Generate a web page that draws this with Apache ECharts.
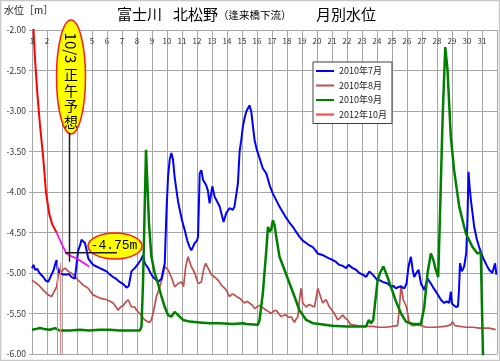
<!DOCTYPE html>
<html><head><meta charset="utf-8">
<script src="https://cdn.jsdelivr.net/npm/echarts@6/dist/echarts.min.js"></script>
<style>html,body{margin:0;padding:0;background:#fff}#c{width:500px;height:361px}</style>
</head><body><div id="c"></div>
<script>
// ---- data ----
const dayLabels = ['1','2','3','4','5','6','7','8','9','10','11','12','13','14','15','16','17','18','19','20','21','22','23','24','25','26','27','28','29','30','31'];
const seriesNames = ['2010年7月','2010年8月','2010年9月','2012年10月'];
const july2010 = [[1.0,-4.94],[1.1,-4.9],[1.2,-4.96],[1.35,-4.95],[1.5,-5.0],[1.75,-5.05],[1.9,-5.09],[2.08,-5.11],[2.2,-5.06],[2.31,-5.07],[2.45,-4.96],[2.53,-4.9],[2.64,-4.84],[2.7,-4.95],[2.75,-4.96],[2.85,-5.0],[2.98,-4.98],[3.1,-5.02],[3.31,-5.02],[3.45,-5.01],[3.64,-5.05],[3.75,-5.03],[3.86,-5.07],[3.98,-5.06],[4.08,-4.72],[4.2,-4.66],[4.3,-4.59],[4.41,-4.57],[4.53,-4.63],[4.64,-4.72],[4.75,-4.82],[4.9,-4.86],[5.08,-4.9],[5.3,-4.92],[5.52,-4.94],[5.75,-4.96],[5.97,-4.98],[6.2,-5.02],[6.41,-5.05],[6.6,-5.07],[6.85,-5.11],[7.1,-5.14],[7.3,-5.18],[7.45,-5.16],[7.63,-4.98],[7.74,-4.96],[7.85,-4.94],[7.97,-4.92],[8.1,-4.88],[8.25,-4.84],[8.4,-4.78],[8.52,-4.88],[8.74,-4.94],[8.9,-5.0],[9.07,-5.05],[9.25,-5.08],[9.4,-5.11],[9.63,-5.07],[9.85,-4.88],[9.96,-4.26],[10.07,-3.81],[10.18,-3.6],[10.29,-3.52],[10.4,-3.6],[10.5,-3.8],[10.63,-3.98],[10.74,-4.12],[10.85,-4.22],[11.0,-4.35],[11.18,-4.47],[11.35,-4.6],[11.51,-4.68],[11.62,-4.72],[11.75,-4.67],[11.85,-4.63],[12.0,-4.6],[12.07,-4.55],[12.18,-3.77],[12.29,-3.73],[12.4,-3.85],[12.5,-3.87],[12.62,-3.92],[12.72,-3.98],[12.84,-4.14],[13.02,-3.93],[13.18,-4.06],[13.35,-4.12],[13.51,-4.18],[13.65,-4.28],[13.77,-4.37],[13.95,-4.26],[14.17,-4.2],[14.39,-4.22],[14.5,-4.18],[14.62,-4.16],[14.73,-3.89],[14.84,-3.5],[14.95,-3.36],[15.06,-3.19],[15.17,-3.09],[15.28,-3.01],[15.39,-2.97],[15.5,-2.93],[15.62,-3.01],[15.73,-3.19],[15.84,-3.36],[15.99,-3.48],[16.17,-3.58],[16.39,-3.71],[16.62,-3.77],[16.85,-3.92],[17.06,-4.02],[17.28,-4.1],[17.5,-4.18],[17.72,-4.25],[17.95,-4.32],[18.17,-4.38],[18.39,-4.43],[18.6,-4.49],[18.83,-4.55],[19.05,-4.6],[19.28,-4.63],[19.5,-4.66],[19.72,-4.68],[19.9,-4.72],[20.05,-4.76],[20.16,-4.74],[20.4,-4.78],[20.6,-4.8],[20.8,-4.82],[21.05,-4.84],[21.25,-4.86],[21.49,-4.9],[21.7,-4.91],[21.94,-4.94],[22.1,-4.9],[22.38,-4.94],[22.6,-4.96],[22.82,-5.0],[23.05,-5.02],[23.27,-5.05],[23.49,-4.98],[23.71,-5.02],[23.9,-5.06],[24.04,-5.09],[24.2,-5.09],[24.38,-5.11],[24.55,-5.12],[24.71,-5.13],[24.93,-5.17],[25.1,-5.16],[25.26,-5.19],[25.45,-5.17],[25.6,-5.17],[25.82,-5.19],[25.97,-5.13],[26.08,-4.95],[26.15,-4.88],[26.26,-4.8],[26.37,-4.95],[26.48,-5.05],[26.62,-5.0],[26.77,-4.96],[26.93,-5.13],[27.15,-5.21],[27.37,-5.07],[27.59,-5.13],[27.75,-5.18],[27.93,-5.23],[28.1,-5.28],[28.26,-5.33],[28.48,-5.37],[28.65,-5.35],[28.81,-5.37],[28.92,-5.23],[29.0,-5.38],[29.26,-5.42],[29.4,-5.41],[29.47,-5.2],[29.53,-4.88],[29.66,-4.98],[29.81,-4.92],[29.95,-4.75],[30.03,-4.35],[30.1,-3.75],[30.18,-3.95],[30.26,-4.1],[30.48,-4.43],[30.65,-4.58],[30.81,-4.68],[31.0,-4.78],[31.14,-4.84],[31.3,-4.9],[31.47,-4.96],[31.69,-5.0],[31.8,-4.98],[31.87,-4.88],[31.96,-5.02]];
const aug2010 = [[1.0,-5.09],[1.15,-5.11],[1.31,-5.13],[1.5,-5.16],[1.64,-5.19],[1.85,-5.23],[2.08,-5.27],[2.2,-5.28],[2.31,-5.29],[2.45,-5.24],[2.53,-5.21],[2.64,-5.17],[2.82,-4.94],[2.95,-4.98],[3.05,-4.96],[3.2,-4.94],[3.42,-4.98],[3.6,-5.0],[3.75,-5.02],[3.9,-5.05],[4.08,-5.09],[4.25,-5.12],[4.41,-5.15],[4.6,-5.17],[4.75,-5.19],[4.9,-5.23],[5.08,-5.27],[5.3,-5.29],[5.52,-5.31],[5.75,-5.32],[5.97,-5.33],[6.2,-5.35],[6.41,-5.37],[6.6,-5.42],[6.74,-5.46],[6.9,-5.42],[7.08,-5.4],[7.25,-5.36],[7.41,-5.33],[7.52,-5.33],[7.63,-5.42],[7.85,-5.42],[7.97,-5.46],[8.19,-5.5],[8.35,-5.54],[8.52,-5.58],[8.7,-5.6],[8.85,-5.61],[8.95,-5.58],[9.07,-5.5],[9.3,-5.29],[9.52,-5.17],[9.7,-5.05],[9.85,-4.92],[10.07,-4.96],[10.29,-5.05],[10.51,-5.17],[10.74,-5.13],[10.96,-5.11],[11.1,-5.17],[11.25,-4.92],[11.4,-4.8],[11.62,-4.92],[11.85,-5.0],[12.07,-5.13],[12.29,-5.11],[12.45,-4.95],[12.58,-4.88],[12.74,-4.94],[12.96,-5.02],[13.1,-5.04],[13.29,-5.07],[13.45,-5.1],[13.62,-5.15],[13.8,-5.18],[13.95,-5.21],[14.17,-5.29],[14.35,-5.26],[14.5,-5.27],[14.7,-5.3],[14.84,-5.31],[15.0,-5.34],[15.17,-5.37],[15.35,-5.35],[15.5,-5.37],[15.7,-5.4],[15.84,-5.44],[16.0,-5.42],[16.17,-5.4],[16.4,-5.43],[16.62,-5.46],[16.8,-5.48],[16.95,-5.5],[17.1,-5.47],[17.28,-5.46],[17.45,-5.5],[17.61,-5.54],[17.8,-5.52],[17.95,-5.52],[18.1,-5.55],[18.28,-5.54],[18.4,-5.58],[18.5,-5.61],[18.6,-5.57],[18.72,-5.54],[18.85,-5.3],[18.94,-5.19],[19.05,-5.37],[19.28,-5.42],[19.45,-5.39],[19.61,-5.4],[19.83,-5.42],[19.95,-5.3],[20.05,-5.19],[20.16,-5.17],[20.25,-5.3],[20.38,-5.37],[20.6,-5.33],[20.83,-5.42],[21.0,-5.46],[21.16,-5.5],[21.38,-5.58],[21.55,-5.55],[21.71,-5.52],[21.9,-5.56],[22.05,-5.58],[22.2,-5.63],[22.38,-5.64],[22.7,-5.65],[23.05,-5.66],[23.4,-5.66],[23.71,-5.66],[24.1,-5.67],[24.6,-5.67],[25.0,-5.66],[25.37,-5.65],[25.48,-5.46],[25.6,-5.15],[25.75,-5.33],[25.97,-5.42],[26.15,-5.62],[26.37,-5.65],[26.81,-5.64],[27.26,-5.67],[27.93,-5.67],[28.5,-5.66],[28.92,-5.64],[29.03,-5.6],[29.2,-5.65],[29.92,-5.67],[30.4,-5.67],[30.81,-5.68],[31.47,-5.68],[31.91,-5.7]];
const sep2010 = [[1.0,-5.7],[1.3,-5.69],[1.53,-5.68],[1.8,-5.69],[2.2,-5.7],[2.53,-5.68],[2.86,-5.71],[3.5,-5.71],[4.2,-5.7],[4.8,-5.71],[5.5,-5.7],[6.2,-5.7],[6.85,-5.71],[7.5,-5.71],[8.19,-5.71],[8.3,-5.66],[8.4,-5.13],[8.5,-4.3],[8.6,-3.48],[8.68,-3.47],[8.8,-4.39],[8.96,-4.8],[9.18,-5.0],[9.4,-5.13],[9.63,-5.29],[9.85,-5.42],[10.07,-5.52],[10.29,-5.54],[10.51,-5.48],[10.74,-5.52],[11.07,-5.58],[11.51,-5.6],[12.18,-5.61],[12.84,-5.62],[13.51,-5.62],[14.39,-5.63],[15.1,-5.62],[15.17,-5.6],[15.25,-5.63],[16.06,-5.64],[16.17,-5.58],[16.39,-5.25],[16.62,-4.72],[16.73,-4.43],[16.84,-4.49],[16.95,-4.46],[17.06,-4.35],[17.17,-4.41],[17.28,-4.55],[17.5,-4.8],[17.83,-4.96],[18.17,-5.13],[18.5,-5.29],[18.83,-5.46],[19.28,-5.58],[19.72,-5.62],[20.16,-5.63],[21.0,-5.65],[21.94,-5.66],[23.27,-5.66],[23.45,-5.58],[23.6,-5.62],[23.75,-5.58],[24.04,-5.09],[24.2,-5.0],[24.42,-4.92],[24.6,-5.0],[24.93,-5.17],[25.26,-5.35],[25.6,-5.5],[25.93,-5.6],[26.37,-5.63],[26.93,-5.63],[27.15,-5.42],[27.37,-5.0],[27.59,-4.76],[27.76,-4.84],[27.9,-4.95],[28.08,-5.05],[28.19,-4.35],[28.37,-3.11],[28.55,-2.21],[28.7,-2.49],[28.92,-3.32],[29.14,-3.73],[29.48,-4.18],[29.92,-4.51],[30.37,-4.68],[30.7,-4.76],[30.92,-4.74],[31.03,-4.76],[31.07,-6.05]];
const oct2012 = [[1.07,-1.9],[1.2,-2.35],[1.35,-2.77],[1.53,-3.17],[1.75,-3.58],[1.93,-4.0],[2.15,-4.27],[2.35,-4.4],[2.64,-4.5]];
const oct2012Forecast = [[2.64,-4.5],[3.0,-4.65],[3.31,-4.76],[3.6,-4.79],[3.97,-4.82],[4.4,-4.87],[4.81,-4.92]];
const gapDays = [2.66, 2.86];
const gapTop = -4.87;
const forecastDay = 3.5;
const forecastLevel = -4.75;
const crossV = [[forecastDay,-3.27],[forecastDay,-4.86]];
const crossH = [[3.2,forecastLevel],[6.67,forecastLevel]];
const yMin = -6, yMax = -2, yStep = 0.5;

const chart = echarts.init(document.getElementById('c'), null, {renderer:'canvas'});
const FONT = '"Noto Sans CJK JP", sans-serif';
const GRID = '#a6a6a6';
const option = {
  animation:false,
  backgroundColor:'#fff',
  textStyle:{fontFamily:FONT},
  grid:{left:32, right:3, top:30, bottom:7},
  legend:{
    data:seriesNames, orient:'vertical', left:313, top:62,
    icon:'rect', itemWidth:18, itemHeight:2, itemGap:4.5,
    padding:[4,5,4,3], borderColor:'#404040', borderWidth:1, backgroundColor:'#fff',
    textStyle:{fontSize:9, color:'#222', lineHeight:10, fontFamily:FONT}
  },
  xAxis:{
    type:'value', min:1, max:32, interval:1, position:'top',
    axisLine:{show:true, lineStyle:{color:GRID}},
    axisTick:{show:false},
    splitLine:{show:true, lineStyle:{color:GRID, width:1}},
    axisLabel:{inside:true, margin:7, fontSize:8, color:'#333', fontFamily:FONT,
      formatter:(v)=>dayLabels[v-1] || ''}
  },
  yAxis:{
    type:'value', min:yMin, max:yMax, interval:yStep,
    axisLine:{show:true, lineStyle:{color:GRID}},
    axisTick:{show:true, length:3, lineStyle:{color:GRID}},
    splitLine:{show:true, lineStyle:{color:GRID, width:1}},
    axisLabel:{fontSize:8.5, color:'#333', margin:6, fontFamily:FONT, formatter:(v)=>v.toFixed(2)}
  },
  series:[
    {name:seriesNames[0], type:'line', data:july2010, symbol:'none', lineStyle:{color:'#0000ff', width:2}, itemStyle:{color:'#0000ff'}, z:3},
    {name:seriesNames[1], type:'line', data:aug2010, symbol:'none', lineStyle:{color:'#c0504d', width:1.7}, itemStyle:{color:'#c0504d'}, z:2,
      markLine:{silent:true, symbol:'none', label:{show:false},
        lineStyle:{color:'#f08080', width:1, type:'solid'},
        data: gapDays.map(d=>[{coord:[d,gapTop]},{coord:[d,yMin]}])}},
    {name:seriesNames[2], type:'line', data:sep2010, symbol:'none', lineStyle:{color:'#008000', width:2.5}, itemStyle:{color:'#008000'}, z:4},
    {name:seriesNames[3], type:'line', data:oct2012, symbol:'none', lineStyle:{color:'#ff0000', width:2}, itemStyle:{color:'#ff4040'}, z:5},
    {name:'予想', type:'line', data:oct2012Forecast, symbol:'none', lineStyle:{color:'#ff00ff', width:1.7}, z:5},
    {name:'crossV', type:'line', data:crossV, symbol:'none', lineStyle:{color:'#1a1a1a', width:1.5}, z:20},
    {name:'crossH', type:'line', data:crossH, symbol:'none', lineStyle:{color:'#1a1a1a', width:1.5}, z:20}
  ],
  graphic:[
    {type:'rect', z:100, shape:{x:0.5,y:0.5,width:499,height:360}, style:{fill:'none', stroke:'#c8c8c8', lineWidth:1.5}},
    {type:'text', left:4, top:5, style:{text:'水位［m］', font:'10px '+FONT, fill:'#222'}},
    {type:'text', x:117, y:14, style:{text:'富士川', font:'15px '+FONT, fill:'#000', textVerticalAlign:'middle'}},
    {type:'text', x:173, y:14, style:{text:'北松野', font:'15px '+FONT, fill:'#000', textVerticalAlign:'middle'}},
    {type:'text', x:218, y:15, style:{text:'（逢来橋下流）', font:'10.5px '+FONT, fill:'#000', textVerticalAlign:'middle'}},
    {type:'text', x:316, y:14, style:{text:'月別水位', font:'15px '+FONT, fill:'#000', textVerticalAlign:'middle'}},
    // forecast note ellipse
    {type:'ellipse', z:10, shape:{cx:71, cy:77, rx:14.5, ry:57}, style:{fill:'#ffff00', stroke:'#ff1a1a', lineWidth:1.5}},
    {type:'text', z:11, x:71, y:48, rotation:-Math.PI/2, style:{text:'10/3', font:'15px '+FONT, fill:'#000', textAlign:'center', textVerticalAlign:'middle'}},
    {type:'text', z:11, x:71, y:98, style:{text:'正\n午\n予\n想', font:'14px '+FONT, lineHeight:15.5, fill:'#000', textAlign:'center', textVerticalAlign:'middle'}},
    // value ellipse
    {type:'ellipse', z:10, shape:{cx:115, cy:246, rx:27, ry:13}, style:{fill:'#ffff00', stroke:'#ff1a1a', lineWidth:1.5}},
    {type:'text', z:11, x:114, y:246, style:{text:'-4.75m', font:'13px "Liberation Mono", monospace', fill:'#000', textAlign:'center', textVerticalAlign:'middle'}}
  ]
};
chart.setOption(option);
</script>
</body></html>
